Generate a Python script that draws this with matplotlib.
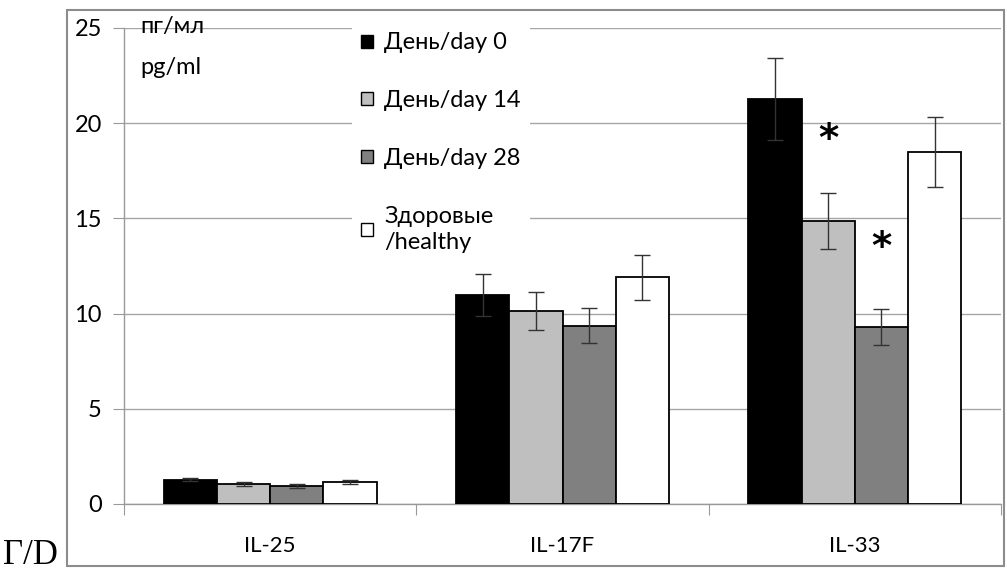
import matplotlib
matplotlib.use("Agg")
import matplotlib.pyplot as plt
from matplotlib.patches import Rectangle, Patch
import numpy as np

plt.rcParams['font.family'] = ['Lato', 'DejaVu Sans']

categories = ["IL-25", "IL-17F", "IL-33"]
series_labels = ["День/day 0", "День/day 14", "День/day 28", "Здоровые\n/healthy"]
values = {
    "day0":   [1.28, 10.98, 21.25],
    "day14":  [1.04, 10.13, 14.85],
    "day28":  [0.93,  9.37,  9.28],
    "healthy": [1.15, 11.90, 18.50],
}
errors = {
    "day0":   [0.07, 1.10, 2.15],
    "day14":  [0.09, 1.00, 1.47],
    "day28":  [0.10, 0.94, 0.95],
    "healthy": [0.09, 1.20, 1.83],
}
series_keys = ["day0", "day14", "day28", "healthy"]
colors = ["#000000", "#bfbfbf", "#808080", "#ffffff"]
yticks = [0, 5, 10, 15, 20, 25]
# significance markers: (category index, series index, y position)
stars = [(2, 1, 19.1), (2, 2, 13.45)]

W, H = 1007, 579
fig = plt.figure(figsize=(W / 100, H / 100), dpi=100)

def fx(px):
    return px / W

def fy(py):
    return 1 - py / H

ax = fig.add_axes([fx(124), fy(504), fx(1001) - fx(124), fy(28) - fy(504)])

x = np.arange(len(categories))
bw = 0.182
for i, key in enumerate(series_keys):
    pos = x + (i - 1.5) * bw
    ax.bar(pos, values[key], width=bw, color=colors[i], edgecolor="black",
           linewidth=1.3, zorder=3, label=series_labels[i])
    ax.errorbar(pos, values[key], yerr=errors[key], fmt="none", ecolor="#333333",
                elinewidth=1.0, capsize=5.5, capthick=1.0, zorder=4)

for ci, si, yv in stars:
    ax.text(x[ci] + (si - 1.5) * bw, yv, "*", ha="center", va="center",
            fontsize=28, fontweight="bold", family="DejaVu Sans", zorder=5)

ax.set_xlim(-0.5, 2.5)
ax.set_ylim(0, 25)
ax.set_yticks(yticks)
ax.set_yticklabels([str(t) for t in yticks], fontsize=17)
ax.yaxis.grid(True, color="#a6a6a6", linewidth=1.0, zorder=0)
ax.set_axisbelow(True)

ax.set_xticks([-0.5, 0.5, 1.5, 2.5])
ax.set_xticklabels([])
ax.set_xticks(x, minor=True)
ax.set_xticklabels(categories, minor=True, fontsize=16)
ax.tick_params(axis="x", which="minor", length=0, pad=23)
ax.tick_params(axis="x", which="major", length=8, color="#999999", direction="out")
ax.tick_params(axis="y", length=8, color="#999999", direction="out", pad=8)

for s in ["top", "right"]:
    ax.spines[s].set_visible(False)
for s in ["left", "bottom"]:
    ax.spines[s].set_color("#999999")
    ax.spines[s].set_linewidth(1.0)
ax.spines["left"].set_bounds(0, 25)

# unit label
ax.text(fx(140), fy(27), "пг/мл", transform=fig.transFigure, fontsize=17,
        ha="left", va="center", zorder=6)
ax.text(fx(140), fy(68), "pg/ml", transform=fig.transFigure, fontsize=17,
        ha="left", va="center", zorder=6)

handles = [Patch(facecolor=c, edgecolor="black", linewidth=1.0) for c in colors]
leg = ax.legend(handles, series_labels, loc="upper left",
                bbox_to_anchor=(fx(352), fy(23)), bbox_transform=fig.transFigure,
                fontsize=17, frameon=True, framealpha=1.0, edgecolor="none",
                fancybox=False, handlelength=0.47, handleheight=0.47,
                handletextpad=0.5, labelspacing=1.56, borderpad=0.4,
                borderaxespad=0)
leg.get_frame().set_facecolor("white")
leg.set_zorder(6)
leg.get_texts()[3].set_linespacing(1.3)

# outer chart frame
fig.add_artist(Rectangle((fx(67), fy(566)), fx(1004) - fx(67), fy(10) - fy(566),
                         transform=fig.transFigure, fill=False,
                         edgecolor="#8c8c8c", linewidth=1.5))

fig.text(fx(3), fy(555), "Γ/D", family="Liberation Serif", fontsize=25,
         ha="left", va="center")

fig.savefig("out.png", dpi=100)
